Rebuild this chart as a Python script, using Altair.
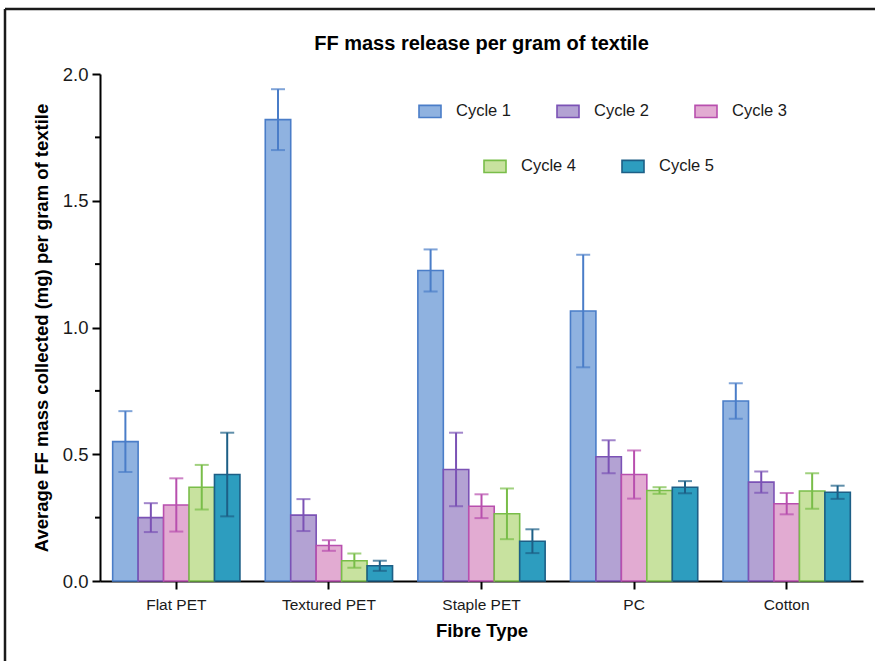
import altair as alt
import pandas as pd

fibres = ["Flat PET", "Textured PET", "Staple PET", "PC", "Cotton"]
cycles = ["Cycle 1", "Cycle 2", "Cycle 3", "Cycle 4", "Cycle 5"]

# mean values per fibre (rows) and cycle (columns)
means = {
    "Flat PET":     [0.55, 0.25, 0.30, 0.37, 0.42],
    "Textured PET": [1.82, 0.26, 0.14, 0.08, 0.06],
    "Staple PET":   [1.225, 0.44, 0.295, 0.265, 0.157],
    "PC":           [1.065, 0.49, 0.42, 0.357, 0.37],
    "Cotton":       [0.71, 0.39, 0.305, 0.355, 0.35],
}
# error (+/-) values
errors = {
    "Flat PET":     [0.12, 0.057, 0.105, 0.088, 0.165],
    "Textured PET": [0.12, 0.063, 0.021, 0.028, 0.02],
    "Staple PET":   [0.083, 0.145, 0.047, 0.10, 0.047],
    "PC":           [0.222, 0.065, 0.095, 0.013, 0.024],
    "Cotton":       [0.07, 0.042, 0.042, 0.07, 0.026],
}
minor_ticks = [0.25, 0.75, 1.25, 1.75]

fill_colors = ["#8fb2e0", "#b3a2d3", "#e2abd2", "#c8e29f", "#2d9dbf"]
stroke_colors = ["#4a7dc8", "#7b52b5", "#b84fae", "#79bd49", "#1d5f86"]

rows = []
for f in fibres:
    for c, m, e in zip(cycles, means[f], errors[f]):
        rows.append({"Fibre": f, "Cycle": c, "mean": m, "lo": m - e, "hi": m + e})
df = pd.DataFrame(rows)

FONT = "Liberation Sans"

x_enc = alt.X("Fibre:N", sort=fibres,
              scale=alt.Scale(paddingInner=0.166, paddingOuter=0.083),
              axis=alt.Axis(title="Fibre Type", labelAngle=0))
xoff = alt.XOffset("Cycle:N", sort=cycles,
                   scale=alt.Scale(domain=cycles, paddingInner=0, paddingOuter=0))
y_scale = alt.Scale(domain=[0, 2.0], nice=False)
y_axis = alt.Axis(title="Average FF mass collected (mg) per gram of textile",
                  values=[0, 0.5, 1.0, 1.5, 2.0], format=".1f")

base = alt.Chart(df)


def bar_layer(sub_cycles, sub_fill, sub_stroke, legend):
    return base.transform_filter(
        alt.FieldOneOfPredicate(field="Cycle", oneOf=sub_cycles)
    ).mark_bar(strokeWidth=1.6).encode(
        x=x_enc, xOffset=xoff,
        y=alt.Y("mean:Q", scale=y_scale, axis=y_axis),
        fill=alt.Fill("Cycle:N", sort=sub_cycles,
                      scale=alt.Scale(domain=sub_cycles, range=sub_fill), legend=legend),
        stroke=alt.Stroke("Cycle:N", sort=sub_cycles,
                          scale=alt.Scale(domain=sub_cycles, range=sub_stroke), legend=legend),
    )


bars_a = bar_layer(cycles[:3], fill_colors[:3], stroke_colors[:3],
                   alt.Legend(title=None, orient="none", legendX=318, legendY=25,
                              columns=3, direction="horizontal"))
bars_b = bar_layer(cycles[3:], fill_colors[3:], stroke_colors[3:],
                   alt.Legend(title=None, orient="none", legendX=383, legendY=80,
                              columns=2, direction="horizontal"))

err_rule = base.mark_rule(strokeWidth=2).encode(
    x=x_enc, xOffset=xoff,
    y=alt.Y("lo:Q", scale=y_scale), y2="hi:Q",
    stroke=alt.Stroke("Cycle:N", sort=cycles,
                      scale=alt.Scale(domain=cycles, range=stroke_colors), legend=None),
)
cap_hi = base.mark_tick(thickness=2, size=14).encode(
    x=x_enc, xOffset=xoff,
    y=alt.Y("hi:Q", scale=y_scale),
    color=alt.Color("Cycle:N", sort=cycles,
                    scale=alt.Scale(domain=cycles, range=stroke_colors), legend=None),
)
cap_lo = base.mark_tick(thickness=2, size=14).encode(
    x=x_enc, xOffset=xoff,
    y=alt.Y("lo:Q", scale=y_scale),
    color=alt.Color("Cycle:N", sort=cycles,
                    scale=alt.Scale(domain=cycles, range=stroke_colors), legend=None),
)

minor = alt.Chart(pd.DataFrame({"v": minor_ticks})).mark_rule(
    color="black", strokeWidth=2).encode(
    y=alt.Y("v:Q", scale=y_scale), x=alt.value(-5), x2=alt.value(0))

frame_top = alt.Chart(alt.Data(values=[{}])).mark_rule(
    color="#1a1a1a", strokeWidth=2.5).encode(
    x=alt.value(-95), x2=alt.value(780), y=alt.value(-65))
frame_left = alt.Chart(alt.Data(values=[{}])).mark_rule(
    color="#1a1a1a", strokeWidth=2.5).encode(
    x=alt.value(-95), y=alt.value(-65), y2=alt.value(600))

chart = alt.layer(
    bars_a, bars_b, err_rule, cap_hi, cap_lo, minor, frame_top, frame_left
).resolve_scale(
    fill="independent", stroke="independent", color="independent"
).properties(
    width=763, height=507,
    title=alt.Title("FF mass release per gram of textile", fontSize=20,
                    font=FONT, fontWeight="bold", color="black",
                    anchor="middle", offset=0, dy=62, baseline="alphabetic"),
    autosize=alt.AutoSizeParams(type="none"),
    padding={"left": 100, "top": 74, "right": 12, "bottom": 80},
).configure_view(stroke=None).configure_axis(
    domainColor="black", domainWidth=2, tickColor="black", tickWidth=2, tickSize=8,
    labelFont=FONT, labelFontSize=15.5, labelColor="#1a1a1a", labelPadding=4,
    titleFont=FONT, titleFontSize=18.5, titleFontWeight="bold", titleColor="black",
    grid=False,
).configure_axisX(
    labelPadding=8, titlePadding=9,
).configure_axisY(
    labelFontSize=18.5, titlePadding=11,
).configure_legend(
    symbolType="M-1,-0.55L1,-0.55L1,0.55L-1,0.55Z", symbolSize=484,
    symbolStrokeWidth=1.6, labelFont=FONT, labelFontSize=16.5, labelColor="#1a1a1a",
    labelOffset=14, columnPadding=41, rowPadding=33, padding=0,
)

chart.save("out.html", embed_options={"renderer": "svg", "actions": False})
